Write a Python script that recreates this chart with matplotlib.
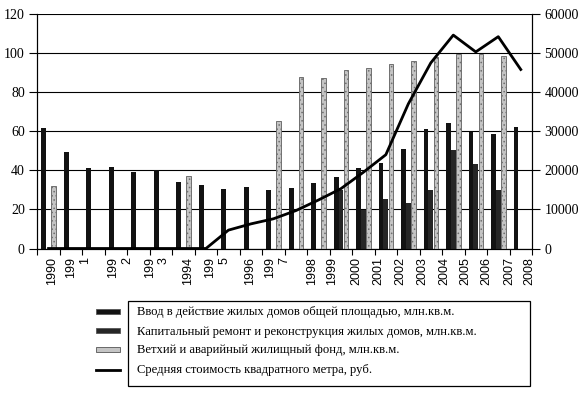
import numpy as np
import matplotlib
matplotlib.use("Agg")
import matplotlib.pyplot as plt
from matplotlib.patches import Rectangle
from matplotlib.lines import Line2D

nan = np.nan

# годы (категории)
years = list(range(1990, 2012))

# Ввод в действие жилых домов, млн.кв.м.
vvod = [61.7, 49.2, 41.3, 41.8, 38.9, 40.4, 34.0, 32.3, 30.2, 31.5, 29.9, 31.2,
        33.6, 36.6, 41.0, 43.5, 50.7, 61.3, 64.0, 59.7, 58.5, 62.2]

# Капитальный ремонт и реконструкция жилых домов, млн.кв.м.
kapremont = [nan] * 13 + [30.0, 19.8, 25.1, 23.1, 29.9, 50.2, 43.1, 30.1, nan]

# Ветхий и аварийный жилищный фонд, млн.кв.м.
vethiy = [32.1, nan, nan, nan, nan, nan, 37.2, nan, nan, nan, 65.3, 87.8,
          87.3, 91.2, 92.6, 94.4, 96.0, 98.2, 99.6, 99.6, 98.5, nan]

# Средняя стоимость квадратного метра, руб.
price = [0, 0, 0, 0, 0, 0, 0, 0, 4700, 6300, 7600, 9700, 12400, 15300,
         19500, 24000, 37000, 47500, 54600, 50300, 54200, 45800]

# подписи оси X так, как они видны на рисунке
xlabels = ["1990", "199\n1", "199\n2", "199\n3", "1994", "199\n5", "1996",
           "199\n7", "1998", "1999", "2000", "2001", "2002", "2003", "2004",
           "2005", "2006", "2007", "2008"]
xlabel_pos = [0.14, 1.32, 3.18, 4.81, 6.21, 7.51, 8.96, 10.18, 11.7, 12.59,
              13.67, 14.66, 15.63, 16.64, 17.58, 18.52, 19.48, 20.49, 21.38]

series_names = ["Ввод в действие жилых домов общей площадью, млн.кв.м.",
                "Капитальный ремонт и реконструкция жилых домов, млн.кв.м.",
                "Ветхий и аварийный жилищный фонд, млн.кв.м.",
                "Средняя стоимость квадратного метра, руб."]

plt.rcParams["hatch.linewidth"] = 0.6

W, H = 586, 395
fig = plt.figure(figsize=(W / 100, H / 100), dpi=100)
ax = fig.add_axes([37.3 / W, 1 - 248.5 / H, (532 - 37.3) / W, (248.5 - 14) / H])

x = np.arange(len(years))
bw = 0.21
c_black = "#121212"
c_dark = "#262626"
c_light = "#c4c4c4"

ax.bar(x - 0.21, vvod, bw, color=c_black, zorder=3)
ax.bar(x, kapremont, bw, color=c_dark, zorder=3)
ax.bar(x + 0.23, vethiy, bw, facecolor=c_light, edgecolor="#707070", hatch="....",
       linewidth=0.7, zorder=3)

ax.set_xlim(-0.5, len(years) - 0.5)
ax.set_ylim(0, 120)
ax.set_yticks(np.arange(0, 121, 20))
ax.grid(axis="y", color="black", linewidth=0.8, zorder=0)
ax.tick_params(axis="y", direction="out", length=6, width=0.8, pad=3, labelsize=10)
for t in ax.get_yticklabels():
    t.set_fontfamily("Liberation Serif")

# деления по границам категорий, подписи отдельно
ax.set_xticks(np.arange(-0.5, len(years)), minor=True)
ax.set_xticks(xlabel_pos)
ax.set_xticklabels(xlabels, rotation=90, fontsize=9, fontfamily="Liberation Sans",
                   ha="center", va="top", multialignment="right")
ax.tick_params(axis="x", which="major", length=0, pad=6)
ax.tick_params(axis="x", which="minor", direction="out", length=4, width=0.8)

for s in ax.spines.values():
    s.set_linewidth(0.8)
ax.spines["top"].set_visible(False)

ax2 = ax.twinx()
ax2.plot(x, price, color="black", linewidth=2.0, clip_on=False, zorder=5)
ax2.set_ylim(0, 60000)
ax2.set_yticks(np.arange(0, 60001, 10000))
ax2.tick_params(axis="y", direction="out", length=6, width=0.8, pad=3, labelsize=10)
for t in ax2.get_yticklabels():
    t.set_fontfamily("Liberation Serif")
ax2.spines["top"].set_visible(False)
for s in ax2.spines.values():
    s.set_linewidth(0.8)

# легенда: рамка с текстом, значки слева от рамки
def fx(px):
    return px / W

def fy(py):
    return 1 - py / H

fig.patches.append(Rectangle((fx(128), fy(386)), fx(530) - fx(128), fy(300.7) - fy(386),
                             transform=fig.transFigure, fill=False,
                             edgecolor="black", linewidth=0.9))
rows = [312.5, 331.5, 350.5, 369.5]
swatch_colors = [c_black, c_dark, c_light]
for i, name in enumerate(series_names):
    fig.text(fx(137.3), fy(rows[i]), name, fontsize=9.1, fontfamily="Liberation Serif",
             va="center", ha="left")
    if i < 3:
        fig.patches.append(Rectangle((fx(96), fy(rows[i] + 1.5)), fx(24), 5 / H,
                                     transform=fig.transFigure, facecolor=swatch_colors[i],
                                     edgecolor="#555555", linewidth=0.6))
    else:
        fig.lines.append(Line2D([fx(96), fx(120)], [fy(rows[i]), fy(rows[i])],
                                transform=fig.transFigure, color="black", linewidth=2))

fig.savefig("out.png", dpi=100)
